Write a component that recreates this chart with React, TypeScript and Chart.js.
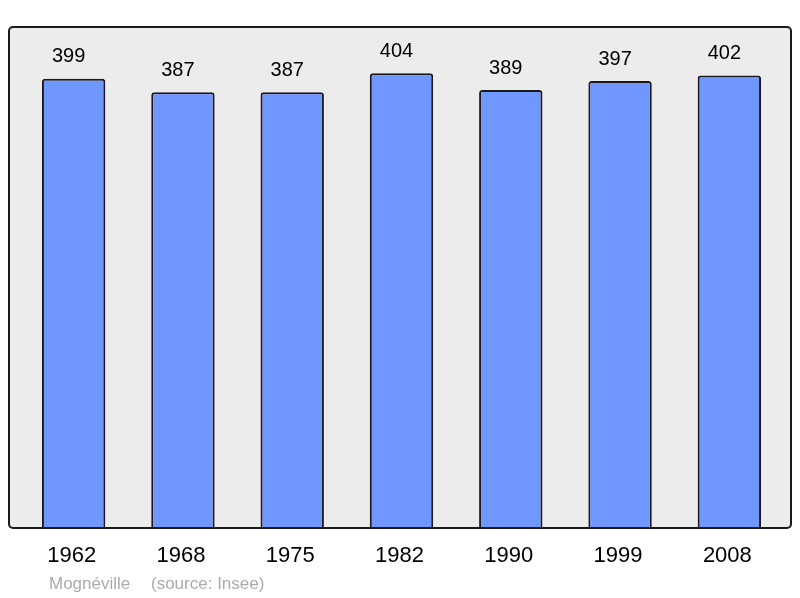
import { useEffect, useRef } from "react";
import { Chart, registerables } from "chart.js";

Chart.register(...registerables);

const years = ["1962", "1968", "1975", "1982", "1990", "1999", "2008"];
const population = [399, 387, 387, 404, 389, 397, 402];
const townName = "Mognéville";
const sourceText = "(source: Insee)";

const FONT = "'Liberation Sans', Arial, sans-serif";

const decorPlugin = {
  id: "decor",
  beforeDraw(chart: Chart) {
    const { ctx, chartArea } = chart;
    const x = chartArea.left - 10;
    const y = chartArea.top;
    const w = chartArea.right + 7 - x;
    const h = chartArea.bottom - y;
    ctx.save();
    ctx.beginPath();
    ctx.roundRect(x, y, w, h, 4);
    ctx.fillStyle = "#ececec";
    ctx.fill();
    ctx.restore();
  },
  afterDatasetsDraw(chart: Chart) {
    const { ctx, chartArea } = chart;
    const xScale = chart.scales.x;
    const yScale = chart.scales.y;
    ctx.save();
    // frame
    ctx.beginPath();
    ctx.roundRect(
      chartArea.left - 10,
      chartArea.top,
      chartArea.right + 7 - (chartArea.left - 10),
      chartArea.bottom - chartArea.top,
      4
    );
    ctx.lineWidth = 2;
    ctx.strokeStyle = "#1a1a1a";
    ctx.stroke();

    ctx.textAlign = "center";
    ctx.textBaseline = "middle";
    ctx.fillStyle = "#000";
    years.forEach((yr, i) => {
      const px = xScale.getPixelForValue(i);
      ctx.font = `20px ${FONT}`;
      ctx.fillText(String(population[i]), px - 5, yScale.getPixelForValue(population[i]) - 22);
      ctx.font = `22px ${FONT}`;
      ctx.fillText(yr, px - 2, chartArea.bottom + 28);
    });

    ctx.textAlign = "left";
    ctx.font = `17px ${FONT}`;
    ctx.fillStyle = "#ababab";
    ctx.fillText(townName, 49, chartArea.bottom + 56);
    ctx.fillText(sourceText, 151, chartArea.bottom + 56);
    ctx.restore();
  },
};

const App = () => {
  const chartRef = useRef<HTMLCanvasElement>(null);
  const chartInstance = useRef<Chart | null>(null);

  useEffect(() => {
    if (!chartRef.current) return;
    if (chartInstance.current) chartInstance.current.destroy();
    const ctx = chartRef.current.getContext("2d");
    if (!ctx) return;

    chartInstance.current = new Chart(ctx, {
      type: "bar",
      data: {
        labels: years,
        datasets: [
          {
            data: population,
            backgroundColor: "#7096ff",
            borderColor: "#1a1a1a",
            borderWidth: 2,
            borderRadius: 3,
            borderSkipped: "bottom",
            barPercentage: 0.58,
            categoryPercentage: 1,
          },
        ],
      },
      options: {
        animation: false,
        responsive: false,
        maintainAspectRatio: false,
        layout: { padding: { left: 19, right: 16, top: 27, bottom: 70 } },
        plugins: {
          legend: { display: false },
          tooltip: { enabled: false },
        },
        scales: {
          x: { display: false },
          y: { display: false, min: 0, max: 445 },
        },
      },
      plugins: [decorPlugin],
    });

    return () => {
      if (chartInstance.current) {
        chartInstance.current.destroy();
        chartInstance.current = null;
      }
    };
  }, []);

  return (
    <div style={{ position: "fixed", left: 0, top: 0, width: 800, height: 598, background: "#fff" }}>
      <canvas ref={chartRef} width={800} height={598} style={{ width: 800, height: 598 }} />
    </div>
  );
};

export default App;
